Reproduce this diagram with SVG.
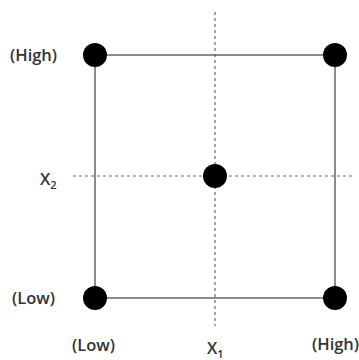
<svg xmlns="http://www.w3.org/2000/svg" width="359" height="360" viewBox="0 0 359 360">
<style>
.lbl{font-family:"Open Sans","Liberation Sans",sans-serif;font-size:16.5px;font-weight:600;fill:#333}
.sub{font-size:11px}
.edge{stroke:#666;stroke-width:1.5;fill:none}
.dash{stroke:#666;stroke-width:1.2;stroke-dasharray:3,3;fill:none}
.pt{fill:#000}
</style>
<rect width="359" height="360" fill="#fff"/>
<g id="connectors">
<line class="dash" x1="215" y1="12" x2="215" y2="326"/>
<line class="dash" x1="73" y1="176" x2="352" y2="176"/>
<rect class="edge" x="95" y="55" width="240" height="243"/>
</g>
<g id="n-tl"><circle class="pt" cx="95" cy="55" r="12"/></g>
<g id="n-tr"><circle class="pt" cx="335" cy="55" r="12"/></g>
<g id="n-bl"><circle class="pt" cx="95" cy="298" r="12"/></g>
<g id="n-br"><circle class="pt" cx="335" cy="298" r="12"/></g>
<g id="n-c"><circle class="pt" cx="215" cy="176" r="12"/></g>
<g id="labels">
<text class="lbl" x="10" y="61">(High)</text>
<text class="lbl" x="40" y="185">X<tspan class="sub" dy="4">2</tspan></text>
<text class="lbl" x="12" y="304">(Low)</text>
<text class="lbl" x="72" y="351">(Low)</text>
<text class="lbl" x="207" y="354">X<tspan class="sub" dy="4">1</tspan></text>
<text class="lbl" x="312" y="350">(High)</text>
</g>
</svg>
